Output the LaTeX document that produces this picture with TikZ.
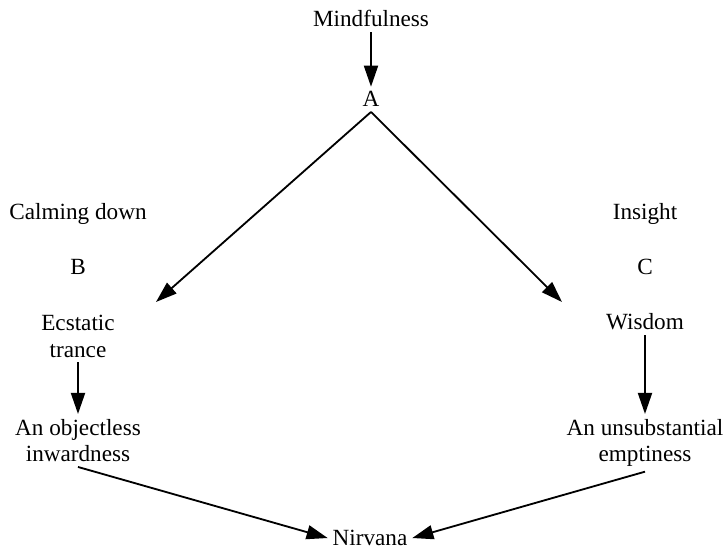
\documentclass[tikz,border=0pt]{standalone}
\usepackage{fontspec}
\setmainfont{Liberation Serif}
\usetikzlibrary{arrows.meta}

\tikzset{
    word/.style={font=\fontsize{16.5}{19}\selectfont, align=center},
    flow/.style={-{Triangle[length=15pt,width=10pt]}, line width=1.3pt},
}

\begin{document}
\begin{tikzpicture}
    \useasboundingbox (0, 0) rectangle (18.2, 13.8);

    \node[word, anchor=base] (mind) at (9.275, 13.125) {Mindfulness};
    \node[word, anchor=base] (A) at (9.275, 11.125) {A};
    \node[word, anchor=base] (calm) at (1.95, 8.3) {Calming down};
    \node[word, anchor=base] (B) at (1.95, 6.925) {B};
    \node[word, anchor=north] (trance) at (1.95, 6.05) {Ecstatic\\trance};
    \node[word, anchor=north] (inward) at (1.95, 3.45) {An objectless\\inwardness};
    \node[word, anchor=base] (insight) at (16.125, 8.3) {Insight};
    \node[word, anchor=base] (C) at (16.125, 6.925) {C};
    \node[word, anchor=base] (wisdom) at (16.125, 5.55) {Wisdom};
    \node[word, anchor=north] (empty) at (16.125, 3.45) {An unsubstantial\\emptiness};
    \node[word, anchor=base] (nirvana) at (9.25, 0.16) {Nirvana};

    \coordinate (tipB) at (3.9, 6.25);
    \coordinate (tipC) at (14.05, 6.25);

    \draw[flow] (mind) -- (A);
    \draw[flow] (A.south) -- (tipB);
    \draw[flow] (A.south) -- (tipC);
    \draw[flow] (trance) -- (inward);
    \draw[flow] (wisdom) -- (empty);
    \draw[flow] (inward.south) -- (nirvana.west);
    \draw[flow] (empty.south) -- (nirvana.east);
\end{tikzpicture}
\end{document}
